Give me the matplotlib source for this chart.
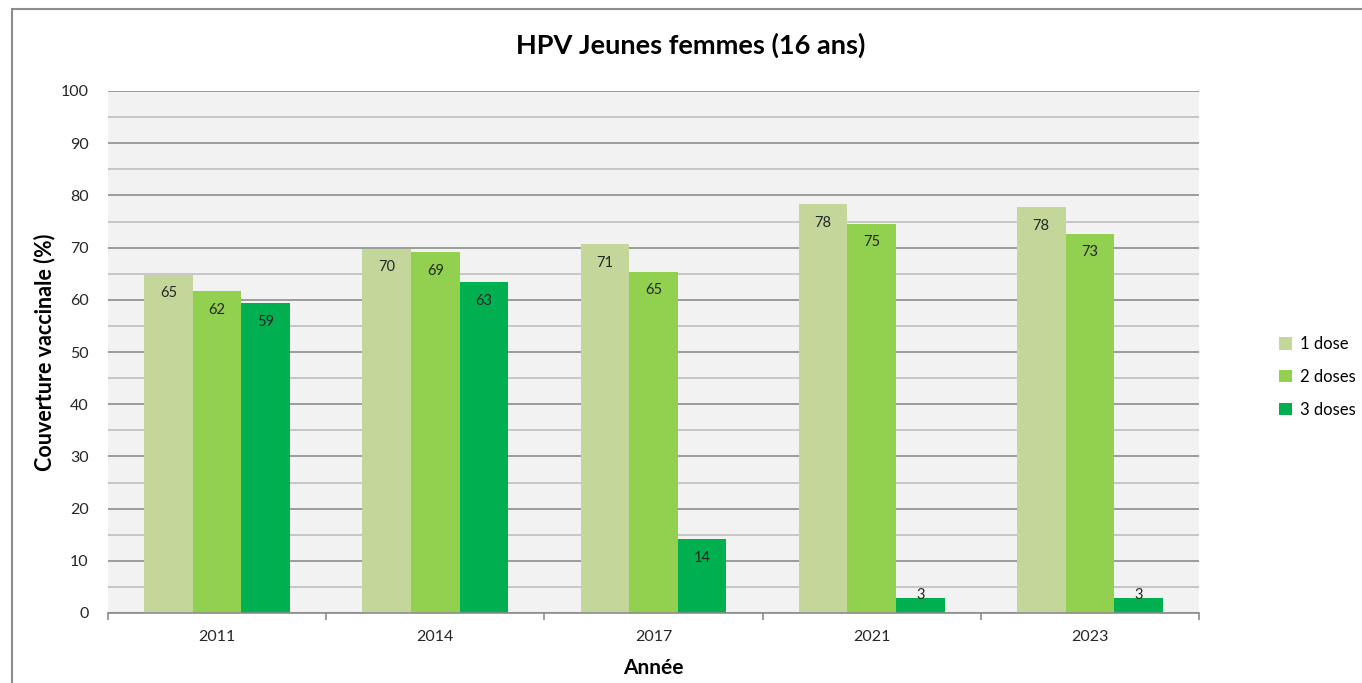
import numpy as np
import matplotlib
matplotlib.use("Agg")
from matplotlib import pyplot as plt
from matplotlib.patches import Rectangle

years = ["2011", "2014", "2017", "2021", "2023"]
dose1 = [64.8, 69.8, 70.6, 78.3, 77.8]
dose2 = [61.7, 69.2, 65.4, 74.6, 72.7]
dose3 = [59.3, 63.4, 14.1, 2.8, 2.8]
series_names = ["1 dose", "2 doses", "3 doses"]
colors = ["#c4d79b", "#92d050", "#00b050"]

plt.rcParams["font.family"] = ["Lato", "DejaVu Sans"]

fig = plt.figure(figsize=(13.62, 6.83), dpi=100)
ax = fig.add_axes([108 / 1362, 70 / 683, 1091 / 1362, 522 / 683])
ax.set_facecolor("#f2f2f2")

# outer chart border
fig.patches.append(Rectangle((12 / 1362, -0.01), 1.0, (683 - 9) / 683 + 0.01,
                             transform=fig.transFigure, fill=False,
                             edgecolor="#8c8c8c", linewidth=1.5))

index = np.arange(len(years))
bar_width = 0.223
for i, (vals, name, c) in enumerate(zip([dose1, dose2, dose3], series_names, colors)):
    xs = index + (i - 1) * bar_width
    ax.bar(xs, vals, bar_width, color=c, label=name, zorder=3)
    for x, v in zip(xs, vals):
        off = -13.5 if v > 8 else 2.5
        ax.annotate(str(int(round(v))), (x, v), xytext=(0, off),
                    textcoords="offset points", ha="center", va="center",
                    fontsize=10.5, color="#262626", zorder=4)

ax.set_xlim(-0.5, len(years) - 0.5)
ax.set_ylim(0, 100)
ax.set_yticks(np.arange(0, 101, 10))
ax.set_yticks(np.arange(5, 100, 10), minor=True)
ax.grid(axis="y", which="major", color="#8c8c8c", linewidth=1.2, zorder=1)
ax.grid(axis="y", which="minor", color="#bfbfbf", linewidth=1.2, zorder=1)
ax.tick_params(axis="y", which="both", length=0, labelsize=11.5, pad=14, colors="#262626")

ax.set_xticks(index)
ax.set_xticklabels(years)
ax.set_xticks(np.arange(-0.5, len(years), 1), minor=True)
ax.tick_params(axis="x", which="major", length=0, labelsize=11.5, pad=12, colors="#262626")
ax.tick_params(axis="x", which="minor", length=5, color="#8c8c8c", width=1.2)

for s in ["top", "right", "left"]:
    ax.spines[s].set_visible(False)
ax.spines["bottom"].set_color("#8c8c8c")
ax.spines["bottom"].set_linewidth(1.2)
ax.spines["bottom"].set_zorder(5)

ax.set_xlabel("Année", fontsize=15, fontweight="bold", labelpad=10)
fig.text(45 / 1362, (683 - 352) / 683, "Couverture vaccinale (%)", rotation=90,
         ha="center", va="center", fontsize=15.5, fontweight="bold")
fig.text(691 / 1362, (683 - 45) / 683, "HPV Jeunes femmes (16 ans)",
         ha="center", va="center", fontsize=19.5, fontweight="bold")

fig.legend(loc="center left", bbox_to_anchor=(1279 / 1362, (683 - 377) / 683),
           frameon=False, borderpad=0, borderaxespad=0, fontsize=12,
           handlelength=0.75, handleheight=0.75, handletextpad=0.5,
           labelspacing=1.0)

fig.savefig("out.png", dpi=100)
